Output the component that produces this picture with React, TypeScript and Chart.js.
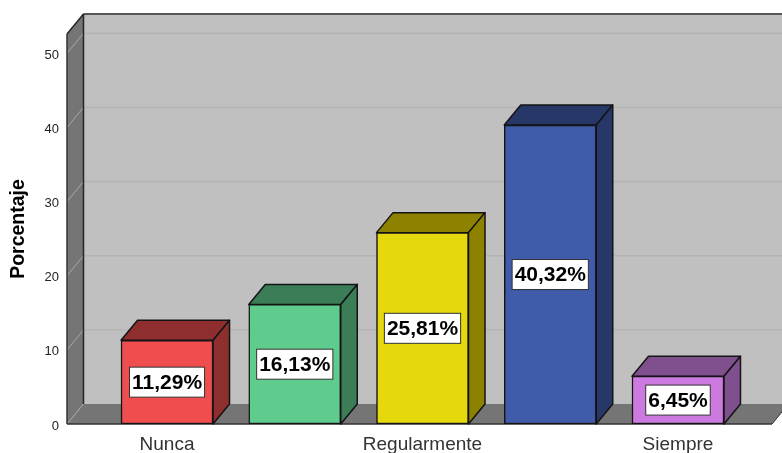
import React, { useEffect, useRef } from "react";
import { Chart, registerables } from "chart.js";

Chart.register(...registerables);

const categoryPositions = [0, 1, 2, 3, 4];
const categoryLabels = ["Nunca", "", "Regularmente", "", "Siempre"];
const percentages = [11.29, 16.13, 25.81, 40.32, 6.45];
const frontColors = ["#F04E4E", "#5FCB8C", "#E5D80D", "#3F5BA9", "#CC7AE0"];
const shadeColors = ["#8F2E2E", "#3A7D56", "#8C8200", "#263768", "#7F4F8E"];
const yTickStep = 10;
const yMax = 52.6;
const xMin = -0.783;
const xMax = 4.736;

const DEPTH_X = 16.5;
const DEPTH_Y = 20;
const EDGE = "#141414";
const FONT = "'Liberation Sans', Arial, sans-serif";

function polygon(ctx: CanvasRenderingContext2D, pts: number[][], fill: string, stroke?: string, lw = 1.5) {
  ctx.beginPath();
  pts.forEach(([x, y], i) => (i ? ctx.lineTo(x, y) : ctx.moveTo(x, y)));
  ctx.closePath();
  ctx.fillStyle = fill;
  ctx.fill();
  if (stroke) {
    ctx.lineWidth = lw;
    ctx.strokeStyle = stroke;
    ctx.lineJoin = "round";
    ctx.stroke();
  }
}

function segment(ctx: CanvasRenderingContext2D, x1: number, y1: number, x2: number, y2: number, color: string, lw: number) {
  ctx.beginPath();
  ctx.moveTo(x1, y1);
  ctx.lineTo(x2, y2);
  ctx.strokeStyle = color;
  ctx.lineWidth = lw;
  ctx.stroke();
}

// Draws the box-shaped plot room plus the top and side faces of every bar.
const roomAndBarDepth = {
  id: "roomAndBarDepth",
  beforeDatasetsDraw(chart: any) {
    const { ctx, chartArea: a, scales } = chart;
    const yScale = scales.y;
    ctx.save();

    // back wall, left wall, floor
    polygon(ctx, [[a.left + DEPTH_X, a.top - DEPTH_Y], [a.right + DEPTH_X, a.top - DEPTH_Y], [a.right + DEPTH_X, a.bottom - DEPTH_Y], [a.left + DEPTH_X, a.bottom - DEPTH_Y]], "#C0C0C0");
    polygon(ctx, [[a.left, a.top], [a.left + DEPTH_X, a.top - DEPTH_Y], [a.left + DEPTH_X, a.bottom - DEPTH_Y], [a.left, a.bottom]], "#757575");
    polygon(ctx, [[a.left, a.bottom], [a.left + DEPTH_X, a.bottom - DEPTH_Y], [a.right + DEPTH_X, a.bottom - DEPTH_Y], [a.right, a.bottom]], "#757575");

    // grid lines continue across the left wall and the back wall
    yScale.ticks.forEach((t: any) => {
      const py = yScale.getPixelForValue(t.value);
      segment(ctx, a.left, py, a.left + DEPTH_X, py - DEPTH_Y, "#A8A8A8", 1);
      if (t.value > 0) segment(ctx, a.left + DEPTH_X, py - DEPTH_Y, a.right + DEPTH_X, py - DEPTH_Y, "#B4B4B4", 1.5);
    });

    // room outline
    segment(ctx, a.left + DEPTH_X, a.top - DEPTH_Y, a.right + DEPTH_X, a.top - DEPTH_Y, "#333333", 1.5);
    segment(ctx, a.left + DEPTH_X, a.top - DEPTH_Y, a.left + DEPTH_X, a.bottom - DEPTH_Y, "#262626", 1.5);
    segment(ctx, a.left, a.top, a.left + DEPTH_X, a.top - DEPTH_Y, "#262626", 1.5);
    segment(ctx, a.left, a.top, a.left, a.bottom, "#333333", 1.5);
    segment(ctx, a.left, a.bottom, a.right, a.bottom, "#333333", 1.5);
    segment(ctx, a.right, a.bottom, a.right + DEPTH_X, a.bottom - DEPTH_Y, "#333333", 1);

    // bar depth faces
    chart.getDatasetMeta(0).data.forEach((bar: any, i: number) => {
      const { x, y, base, width } = bar.getProps(["x", "y", "base", "width"], true);
      const l = x - width / 2;
      const r = x + width / 2;
      polygon(ctx, [[l, y], [l + DEPTH_X, y - DEPTH_Y], [r + DEPTH_X, y - DEPTH_Y], [r, y]], shadeColors[i], EDGE);
      polygon(ctx, [[r, y], [r + DEPTH_X, y - DEPTH_Y], [r + DEPTH_X, base - DEPTH_Y], [r, base]], shadeColors[i], EDGE);
    });
    ctx.restore();
  },
};

// Boxed percentage centred on each bar's front face.
const valueBoxes = {
  id: "valueBoxes",
  afterDatasetsDraw(chart: any) {
    const { ctx } = chart;
    ctx.save();
    ctx.font = `bold 21px ${FONT}`;
    ctx.textAlign = "center";
    ctx.textBaseline = "middle";
    chart.getDatasetMeta(0).data.forEach((bar: any, i: number) => {
      const { x, y, base } = bar.getProps(["x", "y", "base"], true);
      const text = percentages[i].toFixed(2).replace(".", ",") + "%";
      const cy = (y + base) / 2;
      const w = ctx.measureText(text).width + 5;
      const h = 30;
      ctx.fillStyle = "#FFFFFF";
      ctx.strokeStyle = "#333333";
      ctx.lineWidth = 1;
      ctx.fillRect(x - w / 2, cy - h / 2, w, h);
      ctx.strokeRect(x - w / 2, cy - h / 2, w, h);
      ctx.fillStyle = "#000000";
      ctx.fillText(text, x, cy + 1);
    });
    ctx.restore();
  },
};

export default function App() {
  const ref = useRef<HTMLCanvasElement>(null);

  useEffect(() => {
    const chart = new Chart(ref.current as HTMLCanvasElement, {
      type: "bar",
      data: {
        datasets: [
          {
            data: categoryPositions.map((x, i) => ({ x, y: percentages[i] })),
            backgroundColor: frontColors,
            borderColor: EDGE,
            borderWidth: 1.5,
            borderSkipped: false,
            barThickness: 92,
          },
        ],
      },
      options: {
        animation: false,
        responsive: false,
        layout: { padding: { top: 34, right: 10, left: 7, bottom: 0 } },
        plugins: { legend: { display: false }, tooltip: { enabled: false } },
        scales: {
          x: {
            type: "linear",
            offset: false,
            min: xMin,
            max: xMax,
            grid: { display: false },
            border: { display: false },
            afterFit: (s: any) => {
              s.height = 29;
            },
            ticks: {
              stepSize: 1,
              autoSkip: false,
              maxRotation: 0,
              padding: 1,
              color: "#333333",
              font: { family: FONT, size: 19 },
              callback: (v: any) => (Number.isInteger(v) ? categoryLabels[v] : ""),
            },
          },
          y: {
            min: 0,
            max: yMax,
            grid: { display: false, drawTicks: false },
            border: { display: false },
            afterFit: (s: any) => {
              s.width = 60;
            },
            title: {
              display: true,
              text: "Porcentaje",
              color: "#000000",
              padding: { top: 0, bottom: 0 },
              font: { family: FONT, size: 19.5, weight: "bold" },
            },
            ticks: {
              stepSize: yTickStep,
              padding: 8,
              labelOffset: 2,
              color: "#222222",
              font: { family: FONT, size: 13 },
              callback: (v: any) => (Number.isInteger(v / yTickStep) ? String(v) : ""),
            },
          },
        },
      },
      plugins: [roomAndBarDepth, valueBoxes],
    } as any);
    return () => chart.destroy();
  }, []);

  return (
    <div style={{ position: "absolute", left: 0, top: 0, width: 782, height: 453, background: "#FFFFFF" }}>
      <canvas ref={ref} width={782} height={453} style={{ display: "block" }} />
    </div>
  );
}
